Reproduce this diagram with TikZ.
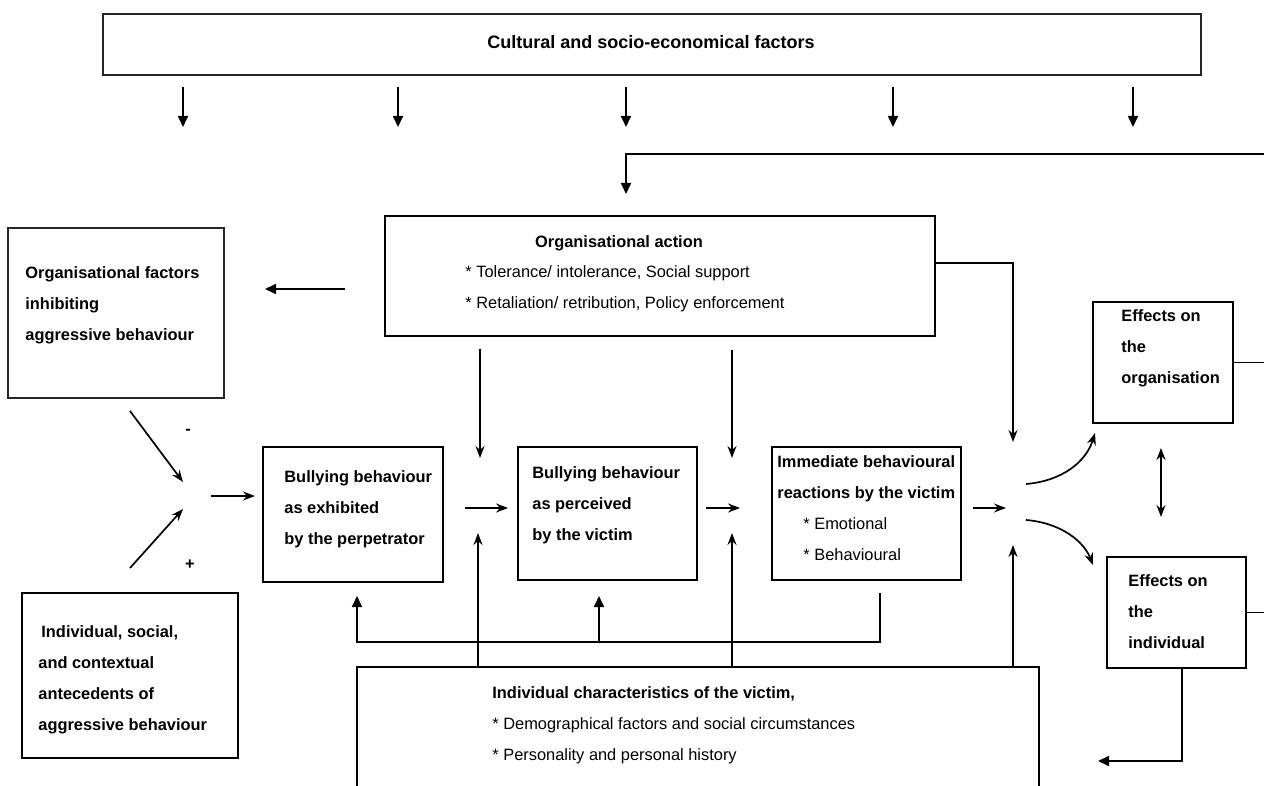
\documentclass[tikz,border=0pt]{standalone}
\usepackage{fontspec}
\setmainfont{Liberation Sans}
\usetikzlibrary{arrows.meta,fit}
\begin{document}
\begin{tikzpicture}[x=0.5pt,y=-0.5pt,
  frame/.style={draw=black,line width=1.4pt,inner sep=0pt},
  thinframe/.style={draw=black!85,line width=0.9pt,inner sep=0pt},
  hdr/.style={inner sep=0pt,anchor=base,font=\fontsize{8.2pt}{15.5pt}\selectfont\bfseries},
  txt/.style={anchor=north west,inner sep=0pt,align=left,font=\fontsize{8.2pt}{15.5pt}\selectfont\bfseries},
  plain/.style={txt,font=\fontsize{8.2pt}{15.5pt}\selectfont},
  link/.style={line width=0.85pt},
  tri/.style={link,-{Triangle[length=5.5pt,width=5pt]}},
  barb/.style={link,-{Stealth[length=6pt,width=4.5pt,inset=2pt]}},
  dbarb/.style={link,{Stealth[length=6pt,width=4.5pt,inset=2pt]}-{Stealth[length=6pt,width=4.5pt,inset=2pt]}},
]
\clip (0,0) rectangle (1264,786);
\fill[white] (0,0) rectangle (1264,786);

% ---------- boxes ----------
\node[thinframe, fit={(103,14) (1201,75)}] (top) {};
\node[thinframe, fit={(8,228) (224,398)}] (orgf) {};
\node[frame, fit={(385,216) (935,336)}] (orga) {};
\node[frame, fit={(263,447) (443,582)}] (bx1) {};
\node[frame, fit={(518,447) (697,580)}] (bx2) {};
\node[frame, fit={(772,447) (961,580)}] (bx3) {};
\node[frame, fit={(22,593) (238,758)}] (indiv) {};
\node[frame, fit={(1093,302) (1233,423)}] (effo) {};
\node[frame, fit={(1107,557) (1246,668)}] (effi) {};
\node[frame, fit={(357,667) (1039,800)}] (vict) {};

% ---------- texts ----------
\node[hdr, font=\fontsize{9pt}{15.5pt}\selectfont\bfseries] (t-top) at (651,48.5) {Cultural and socio-economical factors};
\node[txt] (t-orgf) at (25,266) {Organisational factors\\inhibiting\\aggressive behaviour};
\node[hdr] (t-orga) at (619,248) {Organisational action};
\node[plain] (t-orga-l) at (465,265) {* Tolerance/ intolerance, Social support\\* Retaliation/ retribution, Policy enforcement};
\node[txt] (t-bx1) at (284,470) {Bullying behaviour\\as exhibited\\by the perpetrator};
\node[txt] (t-bx2) at (532,466) {Bullying behaviour\\as perceived\\by the victim};
\node[txt] (t-bx3) at (777,455) {Immediate behavioural\\reactions by the victim};
\node[plain] (t-bx3-l) at (803,517) {* Emotional\\* Behavioural};
\node[txt] (t-indiv) at (38,625) {\hspace*{1.5pt}Individual, social,\\and contextual\\antecedents of\\aggressive behaviour};
\node[txt] (t-effo) at (1121,309) {Effects on\\the\\organisation};
\node[txt] (t-effi) at (1128,574) {Effects on\\the\\individual};
\node[txt] (t-vict) at (492,686) {Individual characteristics of the victim,\\\mdseries * Demographical factors and social circumstances\\\mdseries * Personality and personal history};
\node[hdr, anchor=center] (minus) at (188,432) {-};
\node[hdr, anchor=center] (plus) at (190,565) {+};

% ---------- influence of the cultural factors ----------
\foreach \x [count=\i] in {183,398,626,893,1133} {
  \coordinate (ca\i) at (\x,87);
  \coordinate (cb\i) at (\x,127);
  \draw[tri] (ca\i) -- (cb\i);
}

% ---------- feedback from the effects to organisational action ----------
\coordinate (fbR) at (1264,154);
\coordinate (fbC) at (626,154);
\coordinate (fbT) at (626,194);
\draw[tri] (fbR) -- (fbC) -- (fbT);

% organisational action -> inhibiting factors
\coordinate (oaL) at (345,289);
\coordinate (ofR) at (265,289);
\draw[tri] (oaL) -- (ofR);

% organisational action -> outcome junction
\coordinate (oaBend) at (1013,263);
\coordinate (hubTop) at (1013,442);
\draw[barb] (orga.east |- oaBend) -- (oaBend) -- (hubTop);

% organisational action -> both junctions
\coordinate (d1a) at (480,349);
\coordinate (d1b) at (480,458);
\coordinate (d2a) at (732,350);
\coordinate (d2b) at (732,458);
\draw[barb] (d1a) -- (d1b);
\draw[barb] (d2a) -- (d2b);

% antecedents
\coordinate (mA) at (130,411);
\coordinate (mB) at (183,482);
\coordinate (pA) at (130,568);
\coordinate (pB) at (183,509);
\draw[barb] (mA) -- (mB);
\draw[barb] (pA) -- (pB);
\coordinate (inA) at (211,496);
\coordinate (inB) at (255,496);
\draw[barb] (inA) -- (inB);

% main chain
\coordinate (c1a) at (465,508);
\coordinate (c1b) at (508,508);
\coordinate (c2a) at (706,508);
\coordinate (c2b) at (740,508);
\coordinate (c3a) at (973,508);
\coordinate (c3b) at (1006,508);
\draw[barb] (c1a) -- (c1b);
\draw[barb] (c2a) -- (c2b);
\draw[barb] (c3a) -- (c3b);

% victim characteristics moderate each step
\coordinate (u1) at (478,533);
\coordinate (u2) at (732,533);
\coordinate (u3) at (1013,545);
\draw[barb] (vict.north -| u1) -- (u1);
\draw[barb] (vict.north -| u2) -- (u2);
\draw[barb] (vict.north -| u3) -- (u3);

% feedback from the victim's reactions
\coordinate (rb0) at (880,593);
\coordinate (rb1) at (880,642);
\coordinate (rb2) at (357,642);
\coordinate (rb3) at (357,596);
\coordinate (rm0) at (599,642);
\coordinate (rm1) at (599,596);
\draw[tri] (rb0) -- (rb1) -- (rb2) -- (rb3);
\draw[tri] (rm0) -- (rm1);

% effects
\coordinate (hu1) at (1026,484);
\coordinate (hu2) at (1095,433);
\coordinate (hl1) at (1026,520);
\coordinate (hl2) at (1093,565);
\draw[barb] (hu1) .. controls (1062,481) and (1086,462) .. (hu2);
\draw[barb] (hl1) .. controls (1062,523) and (1084,542) .. (hl2);
\coordinate (dd1) at (1161,448);
\coordinate (dd2) at (1161,517);
\draw[dbarb] (dd1) -- (dd2);

\coordinate (pageR) at (1264,0);
\draw[link] (effo.east) -- (effo.east -| pageR);
\draw[link] (effi.east) -- (effi.east -| pageR);

\coordinate (eiD) at (1182,761);
\coordinate (eiL) at (1098,761);
\draw[tri] (effi.south -| eiD) -- (eiD) -- (eiL);
\end{tikzpicture}
\end{document}
